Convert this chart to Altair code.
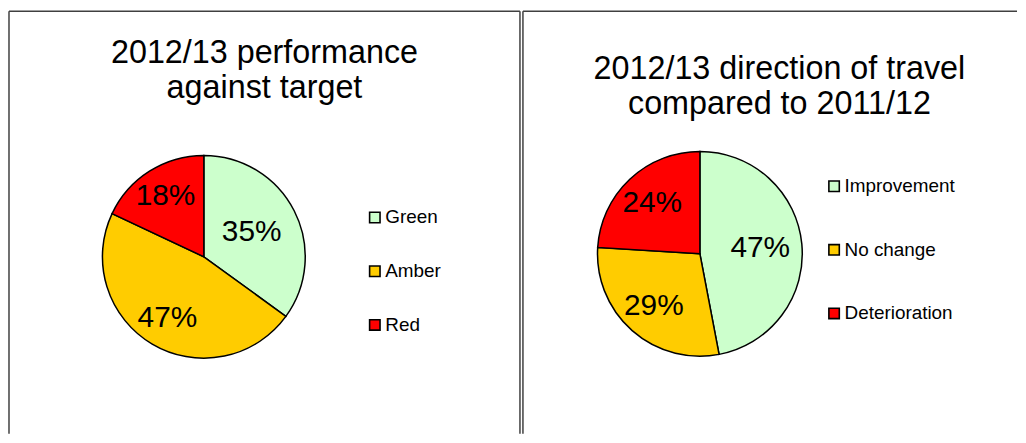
import altair as alt
import pandas as pd

# ---- data ----
left_title = "2012/13 performance\nagainst target"
left_categories = ["Green", "Amber", "Red"]
left_values = [35, 47, 18]

right_title = "2012/13 direction of travel\ncompared to 2011/12"
right_categories = ["Improvement", "No change", "Deterioration"]
right_values = [47, 29, 24]

slice_colors = ["#CCFFCC", "#FFCC00", "#FF0000"]

FONT = "Liberation Sans"
BORDER = "#404040"
H = 425
LEFT_W = 514
RIGHT_W = 497


def panel(title, cats, vals, width, cx, cy, title_x, title_y,
          legend_x, legend_y, row_pad, first_r, other_r, radius):
    df = pd.DataFrame({"cat": cats, "value": vals, "order": list(range(len(cats)))})
    base = alt.Chart(df)

    arcs = base.mark_arc(outerRadius=radius, stroke="black", strokeWidth=1.5).encode(
        x=alt.value(cx),
        y=alt.value(cy),
        theta=alt.Theta("value:Q", stack=True),
        order=alt.Order("order:Q"),
        color=alt.Color(
            "cat:N",
            sort=cats,
            scale=alt.Scale(domain=cats, range=slice_colors),
            legend=alt.Legend(
                title=None,
                orient="none",
                legendX=legend_x,
                legendY=legend_y,
                symbolType="square",
                symbolSize=110,
                symbolStrokeColor="black",
                symbolStrokeWidth=1.6,
                symbolOpacity=1,
                labelFont=FONT,
                labelFontSize=19,
                labelColor="black",
                labelOffset=1,
                rowPadding=row_pad,
                padding=0,
            ),
        ),
    )

    lab_base = (
        base.transform_window(cum="sum(value)", sort=[alt.SortField("order")])
        .transform_joinaggregate(total="sum(value)")
        .transform_calculate(
            mid="(datum.cum - datum.value / 2) / datum.total",
            label="datum.value + '%'",
        )
    )

    def label_layer(flt, r):
        return lab_base.transform_filter(flt).mark_text(
            font=FONT, fontSize=30, color="black", radius=r
        ).encode(
            x=alt.value(cx),
            y=alt.value(cy),
            theta=alt.Theta("mid:Q", scale=alt.Scale(domain=[0, 1])),
            text="label:N",
        )

    lab1 = label_layer(f"datum.cat == '{cats[0]}'", first_r)
    lab2 = label_layer(f"datum.cat != '{cats[0]}'", other_r)

    ttl = alt.Chart(pd.DataFrame({"t": [title]})).mark_text(
        font=FONT, fontSize=32.5, lineHeight=35, lineBreak="\n",
        align="center", baseline="alphabetic", color="black"
    ).encode(text="t:N", x=alt.value(title_x), y=alt.value(title_y))

    one = pd.DataFrame({"a": [0]})
    left_edge = alt.Chart(one).mark_rule(color=BORDER, strokeWidth=1.5).encode(
        x=alt.value(0), y=alt.value(0), y2=alt.value(H))
    top_edge = alt.Chart(one).mark_rule(color=BORDER, strokeWidth=1.5).encode(
        x=alt.value(0), x2=alt.value(width), y=alt.value(0))
    layers = [arcs, lab1, lab2, ttl, left_edge, top_edge]
    if width == LEFT_W:
        right_edge = alt.Chart(one).mark_rule(color=BORDER, strokeWidth=1.5).encode(
            x=alt.value(width), y=alt.value(0), y2=alt.value(H))
        layers.append(right_edge)
    return alt.layer(*layers).resolve_scale(theta="independent").properties(width=width, height=H)


left = panel(left_title, left_categories, left_values, LEFT_W,
             196, 247, 257, 52, 358.5, 198, 34, 54, 72, 102)
right = panel(right_title, right_categories, right_values, RIGHT_W,
              178, 244, 258, 68, 303.5, 166.5, 44, 61, 70, 103)

chart = (
    alt.hconcat(left, right, spacing=1)
    .resolve_scale(color="independent")
    .properties(padding={"left": 0, "top": 1, "right": 0, "bottom": 0}, background="white")
    .configure_view(stroke=None)
)

chart.save("out.html", embed_options={"renderer": "svg", "actions": False})
